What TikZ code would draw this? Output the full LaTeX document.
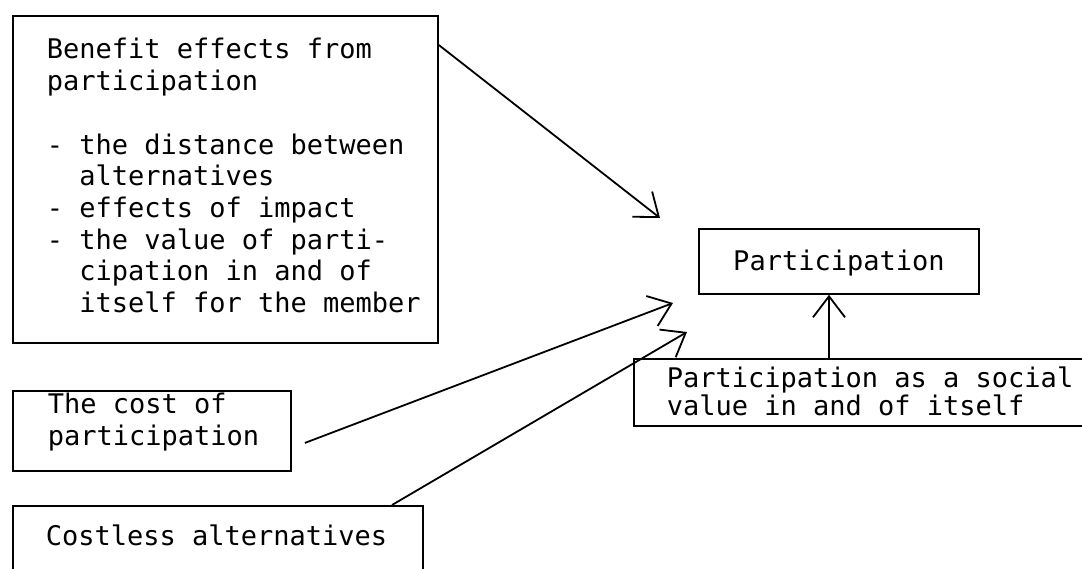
\documentclass[tikz,border=0pt]{standalone}
\usepackage{fontspec}
\setmonofont{DejaVu Sans Mono}[WordSpace={1,0,0}]
\usetikzlibrary{arrows.meta}
% two monospace characters: the hanging indent after "- "
\newcommand\hangin{\hspace*{1.204em}}
% left padding, then a top-aligned block of ragged-right lines
\newcommand\padtext[3]{\hspace*{#1}\parbox[t]{#2}{\raggedright #3}}
\begin{document}
\begin{tikzpicture}[x=1pt,y=-1pt,
  box/.style={draw, line width=1.8pt, rectangle, inner sep=0pt, anchor=north west,
    font=\ttfamily\fontsize{27}{31.7}\selectfont},
  link/.style={line width=1.8pt, -{Straight Barb[length=21pt,width=32pt]}}]
\clip (0,0) rectangle (1082,568);
\fill[white] (0,0) rectangle (1082,568);

% factor boxes
\node[box, text height=43pt, text depth=284pt] (benefit) at (12,15)
  {\padtext{34pt}{391pt}{Benefit effects from\\
   participation\\[31.7pt]
   - the distance between\\
   \hangin alternatives\\
   - effects of impact\\
   - the value of parti-\\
   \hangin cipation in and of\\
   \hangin itself for the member}};

\node[box, text height=23pt, text depth=57pt] (cost) at (12,390)
  {\padtext{35pt}{243pt}{The cost of\\ participation}};

\node[box, text height=40pt, text depth=95pt] (costless) at (12,505)
  {\padtext{33pt}{377pt}{Costless alternatives}};

% outcome
\node[box, minimum width=280pt, text height=42pt, text depth=23pt] (part) at (698,228)
  {Participation};

\node[box, text height=29pt, text depth=38pt,
  font=\ttfamily\fontsize{27}{27.5}\selectfont] (social) at (633,358)
  {\padtext{33pt}{427pt}{Participation as a social\\ value in and of itself}};

% arrow tips stop short of the outcome box
\coordinate (t1) at (660,218);
\coordinate (t2) at (673,303);
\coordinate (t3) at (687,332);

\draw[link] ([yshift=-30pt]benefit.north east) -- (t1);
\draw[link, shorten <=14pt] ([yshift=-17pt]cost.east) -- (t2);
\draw[link] ([xshift=380pt]costless.north west) -- (t3);
\draw[link] ([xshift=196pt]social.north west) -- ([xshift=131pt]part.south west);
\end{tikzpicture}
\end{document}
